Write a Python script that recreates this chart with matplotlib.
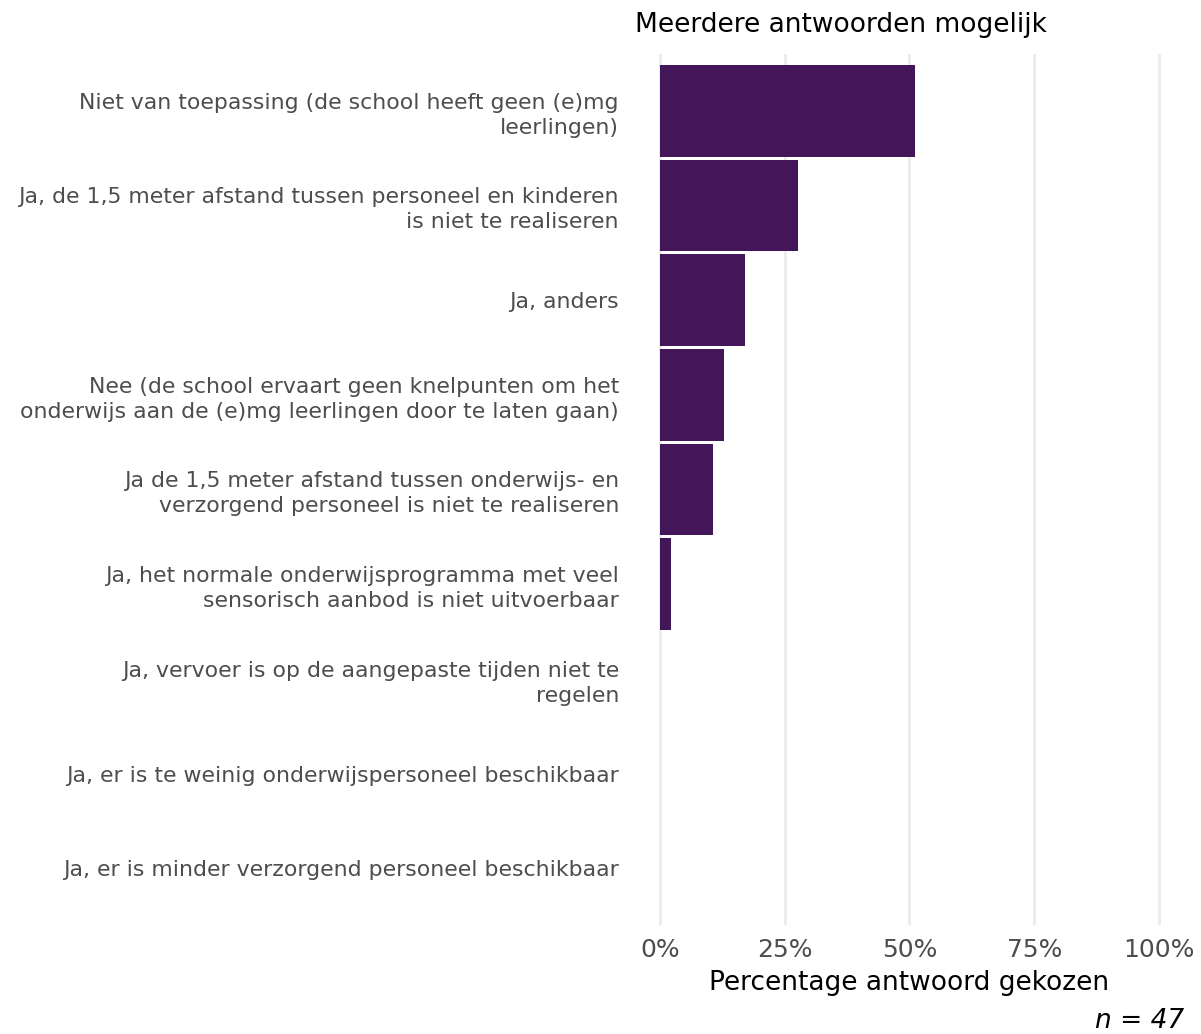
import numpy as np
import matplotlib.pyplot as plt
from matplotlib.ticker import PercentFormatter

categories = [
    "Niet van toepassing (de school heeft geen (e)mg\nleerlingen)",
    "Ja, de 1,5 meter afstand tussen personeel en kinderen\nis niet te realiseren",
    "Ja, anders",
    "Nee (de school ervaart geen knelpunten om het\nonderwijs aan de (e)mg leerlingen door te laten gaan)",
    "Ja de 1,5 meter afstand tussen onderwijs- en\nverzorgend personeel is niet te realiseren",
    "Ja, het normale onderwijsprogramma met veel\nsensorisch aanbod is niet uitvoerbaar",
    "Ja, vervoer is op de aangepaste tijden niet te\nregelen",
    "Ja, er is te weinig onderwijspersoneel beschikbaar",
    "Ja, er is minder verzorgend personeel beschikbaar",
]
counts = [24, 13, 8, 6, 5, 1, 0, 0, 0]
n_total = 47
pct = np.array(counts) / n_total

plt.rcParams['font.family'] = 'sans-serif'
plt.rcParams['font.sans-serif'] = ['DejaVu Sans']

fig = plt.figure(figsize=(12.01, 10.34), dpi=100)
ax = fig.add_axes([0.5287, 0.1054, 0.4571, 0.8424])

y = np.arange(len(categories))
ax.barh(y, pct, height=0.97, color='#43165a', edgecolor='none', zorder=3)

ax.set_xlim(-0.05, 1.05)
ax.set_ylim(len(categories) - 0.4, -0.6)
ax.set_xticks([0, 0.25, 0.5, 0.75, 1.0])
ax.xaxis.set_major_formatter(PercentFormatter(1.0, decimals=0))
ax.set_yticks(y)
ax.set_yticklabels(categories, fontsize=15.8, color='#4d4d4d', linespacing=1.3)
ax.tick_params(axis='y', length=0, pad=11.5)
ax.tick_params(axis='x', length=0, pad=9, labelsize=18, labelcolor='#4d4d4d')
ax.grid(axis='x', color='#ebebeb', linewidth=2, zorder=0)
for s in ax.spines.values():
    s.set_visible(False)

ax.set_xlabel('Percentage antwoord gekozen', fontsize=19, labelpad=6)
ax.set_title('Meerdere antwoorden mogelijk', fontsize=19, loc='left', pad=16)
fig.text(0.986, 0.0, 'n = 47', fontsize=19, style='italic', ha='right', va='bottom')

fig.savefig('out.png', dpi=100)
